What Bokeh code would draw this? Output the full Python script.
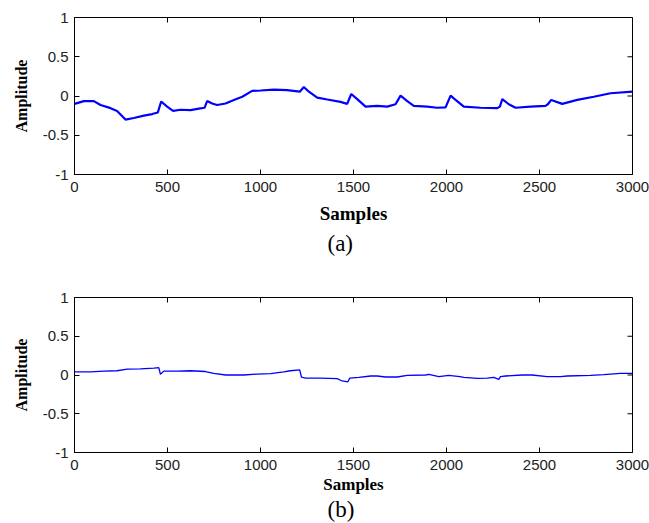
import math
from bokeh.plotting import figure
from bokeh.models import Title, FixedTicker, Range1d
from bokeh.layouts import column
from bokeh.embed import file_html
from bokeh.resources import INLINE

# ---- data ----
a_samples = [0, 50, 104, 140, 194, 229, 274, 319, 373, 418, 448, 466, 498, 530, 570, 624, 668, 699, 713, 740,
             767, 812, 857, 902, 955, 1000, 1072, 1143, 1211, 1233, 1260, 1305, 1359, 1430, 1466, 1488, 1520, 1565, 1627, 1681,
             1726, 1753, 1789, 1824, 1896, 1950, 1995, 2022, 2039, 2093, 2183, 2273, 2287, 2300, 2335, 2371, 2452, 2532, 2545, 2563,
             2622, 2703, 2792, 2882, 3000]
a_amplitude = [-0.10, -0.065, -0.065, -0.115, -0.155, -0.19, -0.30, -0.28, -0.25, -0.23, -0.21, -0.07, -0.135, -0.19, -0.175, -0.18, -0.16, -0.15, -0.065, -0.095,
               -0.115, -0.095, -0.05, -0.01, 0.065, 0.07, 0.08, 0.075, 0.055, 0.115, 0.055, -0.02, -0.045, -0.075, -0.10, 0.025, -0.04, -0.135, -0.125, -0.135,
               -0.105, 0.005, -0.065, -0.125, -0.135, -0.15, -0.145, 0.005, -0.03, -0.135, -0.15, -0.155, -0.135, -0.04, -0.105, -0.15, -0.135, -0.125, -0.105, -0.05,
               -0.10, -0.05, -0.01, 0.035, 0.055]

b_samples = [0, 86, 158, 229, 283, 355, 427, 453, 462, 480, 552, 624, 704, 749, 812, 910, 982, 1054, 1125, 1161,
             1211, 1220, 1242, 1323, 1412, 1439, 1469, 1480, 1529, 1592, 1627, 1672, 1735, 1789, 1887, 1905, 1959, 2012, 2072, 2093,
             2165, 2219, 2254, 2281, 2290, 2317, 2407, 2460, 2541, 2613, 2649, 2774, 2846, 2935, 3000]
b_amplitude = [0.04, 0.04, 0.05, 0.055, 0.075, 0.08, 0.09, 0.095, 0.01, 0.05, 0.05, 0.055, 0.045, 0.02, 0.0, 0.0, 0.012, 0.018, 0.04, 0.055,
               0.065, -0.026, -0.04, -0.04, -0.047, -0.077, -0.09, -0.04, -0.03, -0.013, -0.013, -0.026, -0.026, -0.004, 0.0, 0.009, -0.02, -0.005, -0.02, -0.03,
               -0.043, -0.04, -0.03, -0.056, -0.022, -0.013, 0.0, 0.0, -0.022, -0.022, -0.013, -0.004, 0.004, 0.022, 0.022]

x_ticks = [0, 500, 1000, 1500, 2000, 2500, 3000]
y_ticks = [-1, -0.5, 0, 0.5, 1]
y_tick_labels = ["-1", "-0.5", "0", "0.5", "1"]

x_label = "Samples"
y_label = "Amplitude"
captions = ["(a)", "(b)"]

TICK_FONT = "Liberation Sans"
SERIF = "Liberation Serif"


def make_panel(xs, ys, caption, border_top, frame_h, border_bottom, line_w,
               xlabel_size, xlabel_standoff, caption_size, caption_standoff):
    p = figure(output_backend="svg", toolbar_location=None,
               frame_width=558, frame_height=frame_h,
               min_border_left=74, min_border_right=17,
               min_border_top=border_top, min_border_bottom=border_bottom,
               x_range=Range1d(0, 3000), y_range=Range1d(-1, 1),
               background_fill_color="white", border_fill_color="white")
    p.line(xs, ys, line_color="#0000ff", line_width=line_w)
    p.grid.visible = False
    p.outline_line_color = "black"
    p.outline_line_width = 1

    # inward ticks on the top and right edges of the box
    p.ray(x=x_ticks, y=[y_ticks[-1]] * len(x_ticks), length=5, length_units="screen",
          angle=-math.pi / 2, line_color="black", line_width=1)
    p.ray(x=[x_ticks[-1]] * len(y_ticks), y=y_ticks, length=5, length_units="screen",
          angle=math.pi, line_color="black", line_width=1)

    overrides = {t: l for t, l in zip(y_ticks, y_tick_labels)}

    for ax in p.xaxis:
        ax.ticker = FixedTicker(ticks=x_ticks)
        ax.axis_label = x_label
        ax.axis_label_text_font_size = xlabel_size
        ax.axis_label_standoff = xlabel_standoff
        ax.major_label_standoff = 7
    for ax in p.yaxis:
        ax.ticker = FixedTicker(ticks=y_ticks)
        ax.major_label_overrides = overrides
        ax.axis_label = y_label
        ax.axis_label_text_font_size = "16px"
        ax.axis_label_standoff = 10
        ax.major_label_standoff = 6

    for ax in p.axis:
        ax.major_tick_in = 5
        ax.major_tick_out = 0
        ax.minor_tick_line_color = None
        ax.axis_line_color = "black"
        ax.major_tick_line_color = "black"
        ax.major_label_text_font = TICK_FONT
        ax.major_label_text_font_size = "15px"
        ax.major_label_text_color = "#222222"
        ax.axis_label_text_font = SERIF
        ax.axis_label_text_font_style = "bold"
        ax.axis_label_text_color = "black"

    t = Title(text=caption, align="left", text_font=SERIF, text_font_style="normal",
              text_font_size=caption_size, text_color="black", offset=253, standoff=caption_standoff)
    p.add_layout(t, "below")
    return p


pa = make_panel(a_samples, a_amplitude, captions[0], 17, 157, 84, 2.2, "19px", 8, "23px", 5)
pb = make_panel(b_samples, b_amplitude, captions[1], 39, 155, 71, 1.3, "17px", 2, "23px", -4)

layout = column(pa, pb, spacing=0)

open("out.html", "w").write(file_html(layout, INLINE))
